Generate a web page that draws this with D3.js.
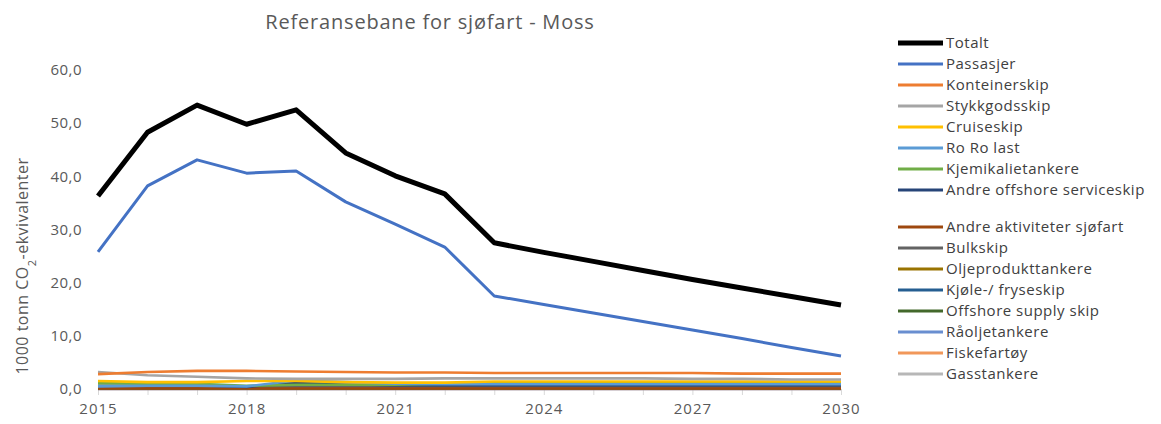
<!DOCTYPE html>
<html><head><meta charset="utf-8">
<script src="https://cdn.jsdelivr.net/npm/d3@7"></script>
<style>body{margin:0;background:#fff}svg{display:block}text{font-family:"Open Sans","DejaVu Sans",sans-serif}</style>
</head><body><svg id="c" width="1161" height="424"></svg>
<script>
const years = [2015,2016,2017,2018,2019,2020,2021,2022,2023,2024,2025,2026,2027,2028,2029,2030];
const seriesNames = ["Totalt","Passasjer","Konteinerskip","Stykkgodsskip","Cruiseskip","Ro Ro last","Kjemikalietankere","Andre offshore serviceskip","Andre aktiviteter sjøfart","Bulkskip","Oljeprodukttankere","Kjøle-/ fryseskip","Offshore supply skip","Råoljetankere","Fiskefartøy","Gasstankere"];
const totalt        = [36.3,48.3,53.4,49.8,52.5,44.4,40.1,36.7,27.5,25.7,24.0,22.3,20.6,19.0,17.4,15.8];
const passasjer     = [25.8,38.2,43.1,40.6,41.0,35.2,31.0,26.7,17.5,15.9,14.3,12.7,11.1,9.5,7.8,6.2];
const konteinerskip = [2.8,3.2,3.4,3.4,3.3,3.2,3.1,3.1,3.0,3.0,3.0,3.0,3.0,2.9,2.9,2.9];
const stykkgods     = [3.2,2.6,2.3,2.0,1.9,1.9,1.9,2.0,2.0,2.0,2.0,2.0,1.9,1.9,1.8,1.8];
const cruiseskip    = [1.5,1.3,1.3,1.5,1.5,1.3,1.2,1.2,1.4,1.4,1.4,1.4,1.4,1.4,1.4,1.4];
const roRoLast      = [0.5,0.6,0.6,0.5,1.6,1.3,1.0,0.9,0.9,0.9,0.9,0.9,0.9,0.9,0.9,0.9];
const kjemikalie    = [1.1,1.0,1.0,0.6,0.8,0.8,0.8,1.0,1.1,1.1,1.1,1.1,1.1,1.1,1.1,1.1];
const andreOffshore = [0.6,0.6,0.7,0.4,1.2,0.9,0.7,0.7,0.7,0.7,0.7,0.7,0.7,0.7,0.7,0.7];
const andreAktiv    = [0.1,0.1,0.1,0.1,0.1,0.1,0.1,0.1,0.1,0.1,0.1,0.1,0.1,0.1,0.1,0.1];
const bulkskip      = [0.3,0.3,0.3,0.3,0.3,0.3,0.3,0.3,0.3,0.3,0.3,0.3,0.3,0.3,0.3,0.3];
const oljeprodukt   = [0.2,0.2,0.2,0.2,0.2,0.2,0.2,0.2,0.2,0.2,0.2,0.2,0.2,0.2,0.2,0.2];
const kjole         = [0.4,0.4,0.4,0.4,0.5,0.5,0.5,0.5,0.5,0.5,0.5,0.5,0.5,0.5,0.5,0.5];
const offshoreSup   = [0.1,0.1,0.1,0.1,0.1,0.1,0.1,0.1,0.1,0.1,0.1,0.1,0.1,0.1,0.1,0.1];
const raolje        = [0.0,0.0,0.0,0.0,0.0,0.0,0.0,0.0,0.0,0.0,0.0,0.0,0.0,0.0,0.0,0.0];
const fiske         = [0.0,0.0,0.0,0.0,0.0,0.0,0.0,0.0,0.0,0.0,0.0,0.0,0.0,0.0,0.0,0.0];
const gasstankere   = [0.2,0.2,0.2,0.2,0.2,0.2,0.2,0.2,0.2,0.2,0.2,0.2,0.2,0.2,0.2,0.2];
const yTicks = [0,10,20,30,40,50,60];
const xLabelYears = [2015,2018,2021,2024,2027,2030];

const values = [totalt,passasjer,konteinerskip,stykkgods,cruiseskip,roRoLast,kjemikalie,andreOffshore,andreAktiv,bulkskip,oljeprodukt,kjole,offshoreSup,raolje,fiske,gasstankere];
const colors = ["#000000","#4472C4","#ED7D31","#A5A5A5","#FFC000","#5B9BD5","#70AD47","#264478","#9E480E","#636363","#997300","#255E91","#43682B","#698ED0","#F1975A","#B7B7B7"];
const widths = [5,3,2.6,2.6,2.6,2.6,2.6,2.6,2.6,2.6,2.6,2.6,2.6,2.6,2.6,2.6];

const svg = d3.select("#c");
const x = d3.scaleLinear().domain([2015,2030]).range([98,841]);
const y = d3.scaleLinear().domain([0,60]).range([389,70]);

svg.append("text").attr("x",430).attr("y",29).attr("text-anchor","middle")
  .attr("font-size",20).attr("letter-spacing",0.8).attr("fill","#595959").text("Referansebane for sjøfart - Moss");

// y axis labels
const ya = svg.append("g").attr("transform","translate(82,0)")
  .call(d3.axisLeft(y).tickValues(yTicks).tickSize(0).tickPadding(0).tickFormat(d=>d3.format(".1f")(d).replace(".",",")));
ya.select(".domain").remove();
ya.selectAll("text").attr("font-size",15).attr("letter-spacing",0.5).attr("fill","#595959").attr("font-family","Open Sans, sans-serif");

// x axis
const xa = svg.append("g").attr("transform","translate(0,389)")
  .call(d3.axisBottom(x).tickValues(years).tickSize(6).tickSizeOuter(0).tickPadding(8).tickFormat(d=>xLabelYears.includes(d)?String(d):""));
xa.select(".domain").attr("stroke","#d9d9d9");
xa.selectAll(".tick line").attr("stroke","#d9d9d9");
xa.selectAll("text").attr("font-size",15).attr("letter-spacing",1).attr("fill","#595959").attr("font-family","Open Sans, sans-serif");

// y title
const yt = svg.append("text").attr("transform","translate(28,266) rotate(-90)").attr("text-anchor","middle")
  .attr("font-size",16).attr("letter-spacing",0.5).attr("fill","#595959");
yt.append("tspan").text("1000 tonn CO");
yt.append("tspan").attr("baseline-shift","sub").attr("font-size",11).text("2");
yt.append("tspan").text("-ekvivalenter");

const line = d3.line().x((d,i)=>x(years[i])).y(d=>y(d));
const drawOrder = d3.range(values.length).reverse();
drawOrder.forEach(i=>{
  svg.append("path").datum(values[i]).attr("d",line).attr("fill","none")
    .attr("stroke",colors[i]).attr("stroke-width",widths[i]).attr("stroke-linejoin","round");
});

// legend
const lg = svg.append("g");
seriesNames.forEach((n,i)=>{
  const ly = 43 + i*21 + (i>=8?16:0);
  lg.append("line").attr("x1",898).attr("x2",943).attr("y1",ly).attr("y2",ly)
    .attr("stroke",colors[i]).attr("stroke-width",i===0?5:3);
  lg.append("text").attr("x",946).attr("y",ly+5).attr("font-size",15).attr("letter-spacing",0.5).attr("fill","#404040").text(n);
});
</script></body></html>
